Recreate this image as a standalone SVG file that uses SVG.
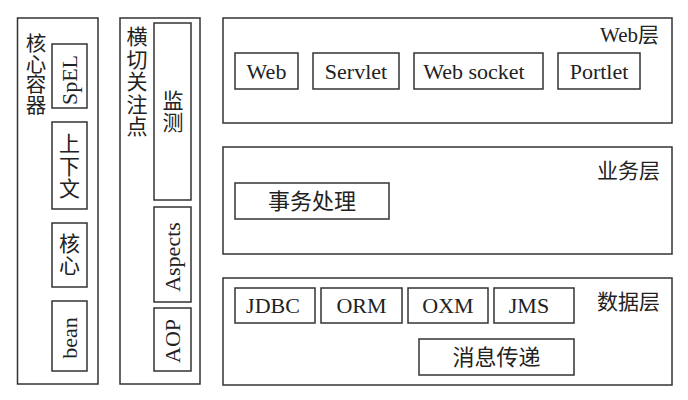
<svg xmlns="http://www.w3.org/2000/svg" width="688" height="400" viewBox="0 0 688 400">
<style>
rect{fill:#fff;stroke:#333;stroke-width:1.5}
text{font-family:"Liberation Serif","Noto Sans CJK SC",serif;font-size:22px;fill:#222}
.c{text-anchor:middle}
.r{text-anchor:end;font-size:21px}
.vc{text-anchor:middle;font-size:21px}
.v{text-anchor:middle;dominant-baseline:central}
</style>
<rect x="0" y="0" width="688" height="400" style="stroke:none"/>
<g id="core">
<rect x="17.5" y="18" width="80.5" height="366"/>
<text class="vc" style="font-size:20.5px"><tspan x="36" y="51">核</tspan><tspan x="36" y="71.5">心</tspan><tspan x="36" y="92">容</tspan><tspan x="36" y="112.5">器</tspan></text>
</g>
<g id="spel"><rect x="52" y="44" width="35" height="64"/><text class="v" transform="translate(69.5,80) rotate(-90)">SpEL</text></g>
<g id="context"><rect x="52" y="122" width="35" height="87"/><text class="vc"><tspan x="69.5" y="151">上</tspan><tspan x="69.5" y="173.5">下</tspan><tspan x="69.5" y="196">文</tspan></text></g>
<g id="corebox"><rect x="52" y="223" width="35" height="64"/><text class="vc"><tspan x="69.5" y="251">核</tspan><tspan x="69.5" y="273">心</tspan></text></g>
<g id="bean"><rect x="52" y="301" width="35" height="70"/><text class="v" transform="translate(69.5,338) rotate(-90)">bean</text></g>
<g id="crosscut">
<rect x="120" y="18" width="80" height="366"/>
<text class="vc"><tspan x="137" y="44">横</tspan><tspan x="137" y="66.5">切</tspan><tspan x="137" y="89">关</tspan><tspan x="137" y="111.5">注</tspan><tspan x="137" y="134">点</tspan></text>
</g>
<g id="monitor"><rect x="154" y="23" width="37" height="177"/><text class="vc"><tspan x="173" y="108">监</tspan><tspan x="173" y="130">测</tspan></text></g>
<g id="aspects"><rect x="154" y="207" width="37" height="95"/><text class="v" transform="translate(172.5,257) rotate(-90)">Aspects</text></g>
<g id="aop"><rect x="154" y="308" width="37" height="63"/><text class="v" transform="translate(172.5,341) rotate(-90)">AOP</text></g>
<g id="web-layer">
<rect x="223" y="18" width="449" height="105"/>
<text class="r" x="659" y="42">Web层</text>
</g>
<g id="web"><rect x="235" y="53" width="63" height="36"/><text class="c" x="266.5" y="79">Web</text></g>
<g id="servlet"><rect x="313" y="53" width="86" height="36"/><text class="c" x="356" y="79">Servlet</text></g>
<g id="websocket"><rect x="414" y="53" width="129" height="36"/><text class="c" x="474" y="79">Web socket</text></g>
<g id="portlet"><rect x="558" y="53" width="82" height="36"/><text class="c" x="599" y="79">Portlet</text></g>
<g id="service-layer">
<rect x="223" y="147" width="449" height="107"/>
<text class="r" x="660" y="178">业务层</text>
</g>
<g id="tx"><rect x="235" y="183" width="154" height="36"/><text class="c" x="312" y="209">事务处理</text></g>
<g id="data-layer">
<rect x="223" y="278" width="449" height="107"/>
<text class="r" x="660" y="309">数据层</text>
</g>
<g id="jdbc"><rect x="235" y="288" width="80" height="35"/><text class="c" x="273" y="313">JDBC</text></g>
<g id="orm"><rect x="321" y="288" width="81" height="35"/><text class="c" x="361.5" y="313">ORM</text></g>
<g id="oxm"><rect x="408" y="288" width="80" height="35"/><text class="c" x="448" y="313">OXM</text></g>
<g id="jms"><rect x="494" y="288" width="80" height="35"/><text class="c" x="529" y="313">JMS</text></g>
<g id="msg"><rect x="419" y="339" width="155" height="36"/><text class="c" x="496.5" y="365">消息传递</text></g>
<g id="connectors"></g>
</svg>
